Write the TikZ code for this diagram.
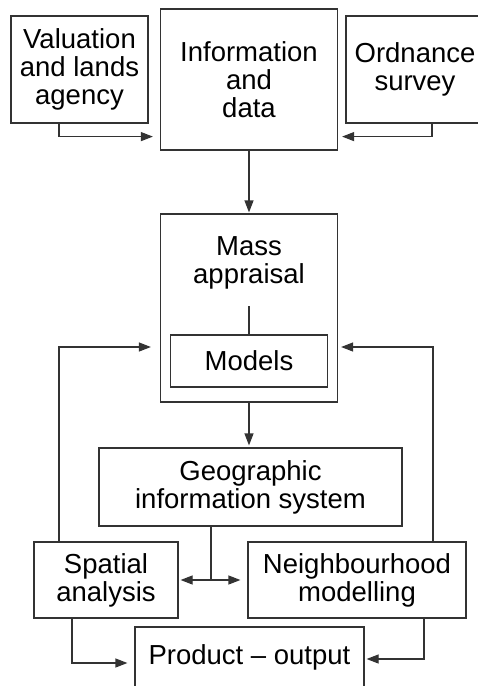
\documentclass[tikz,border=0pt]{standalone}
\usepackage{fontspec}
\setmainfont{Liberation Sans}
\usetikzlibrary{arrows.meta}

\begin{document}
\begin{tikzpicture}[x=1pt, y=-1pt,
		lbl/.style={align=center, inner sep=0pt, font=\fontsize{27.5}{28}\selectfont},
		box/.style={lbl, draw=black!80, line width=1.2pt},
		arr/.style={-{Triangle[length=12pt, width=9pt]}, draw=black!80, line width=1.2pt, shorten >=2pt},
		link/.style={draw=black!80, line width=1.2pt}]
			\useasboundingbox (0,0) rectangle (478,686);
			\node[box, minimum width=137, minimum height=107] (val) at (79.5,69.5) {Valuation\\and lands\\agency};
			\node[box, minimum width=177, minimum height=141] (info) at (249,79.5) {Information\\and\\data};
			\node[box, minimum width=138, minimum height=107] (ord) at (415,69.5) {Ordnance\\survey};
			
			\node[box, minimum width=177, minimum height=188] (mass) at (249,308) {};
			\node[lbl] (masstxt) at (249,262.5) {Mass\\appraisal};
			\coordinate (mtop) at (249,306);
			\node[box, minimum width=157, minimum height=52] (models) at (249,361) {Models};
			
			\node[box, minimum width=303, minimum height=78] (gis) at (250.5,487) {Geographic\\information system};
			\node[box, minimum width=144, minimum height=76] (spat) at (106,580) {Spatial\\analysis};
			\node[box, minimum width=218, minimum height=76] (neigh) at (357,580) {Neighbourhood\\modelling};
			\node[box, minimum width=229, minimum height=60] (prod) at (249.5,657) {Product – output};
			
			\draw[arr, shorten >=7pt] ([xshift=-20.5pt]val.south) |- ([yshift=14pt]info.south west);
			\draw[arr, shorten >=4pt] ([xshift=17pt]ord.south) |- ([yshift=14pt]info.south east);
			\draw[arr, shorten >=1pt] (info.south) -- (mass.north);
			\draw[link] (models.north) -- (mtop);
			\draw[arr] (mass.south) -- (mass.south |- gis.north);
			
			\draw[arr, shorten >=9pt] ([xshift=-47pt]spat.north) |- ([yshift=-39pt]mass.west);
			\draw[arr, shorten >=3pt] ([xshift=76pt]neigh.north) |- ([yshift=-39pt]mass.east);
			
			\draw[link] ([xshift=-39.5pt]gis.south) -- ([xshift=-39.5pt]gis.south |- spat.east);
			\draw[arr, {Triangle[length=12pt, width=9pt]}-{Triangle[length=12pt, width=9pt]}, shorten <=2pt, shorten >=7pt] (spat.east) -- (neigh.west);
			
			\draw[arr, shorten >=7pt] ([xshift=-34pt]spat.south) |- ([yshift=-6pt]prod.west);
			\draw[arr, shorten >=2pt] ([xshift=67pt]neigh.south) |- ([yshift=-2pt]prod.east);
			
		\end{tikzpicture}
\end{document}
